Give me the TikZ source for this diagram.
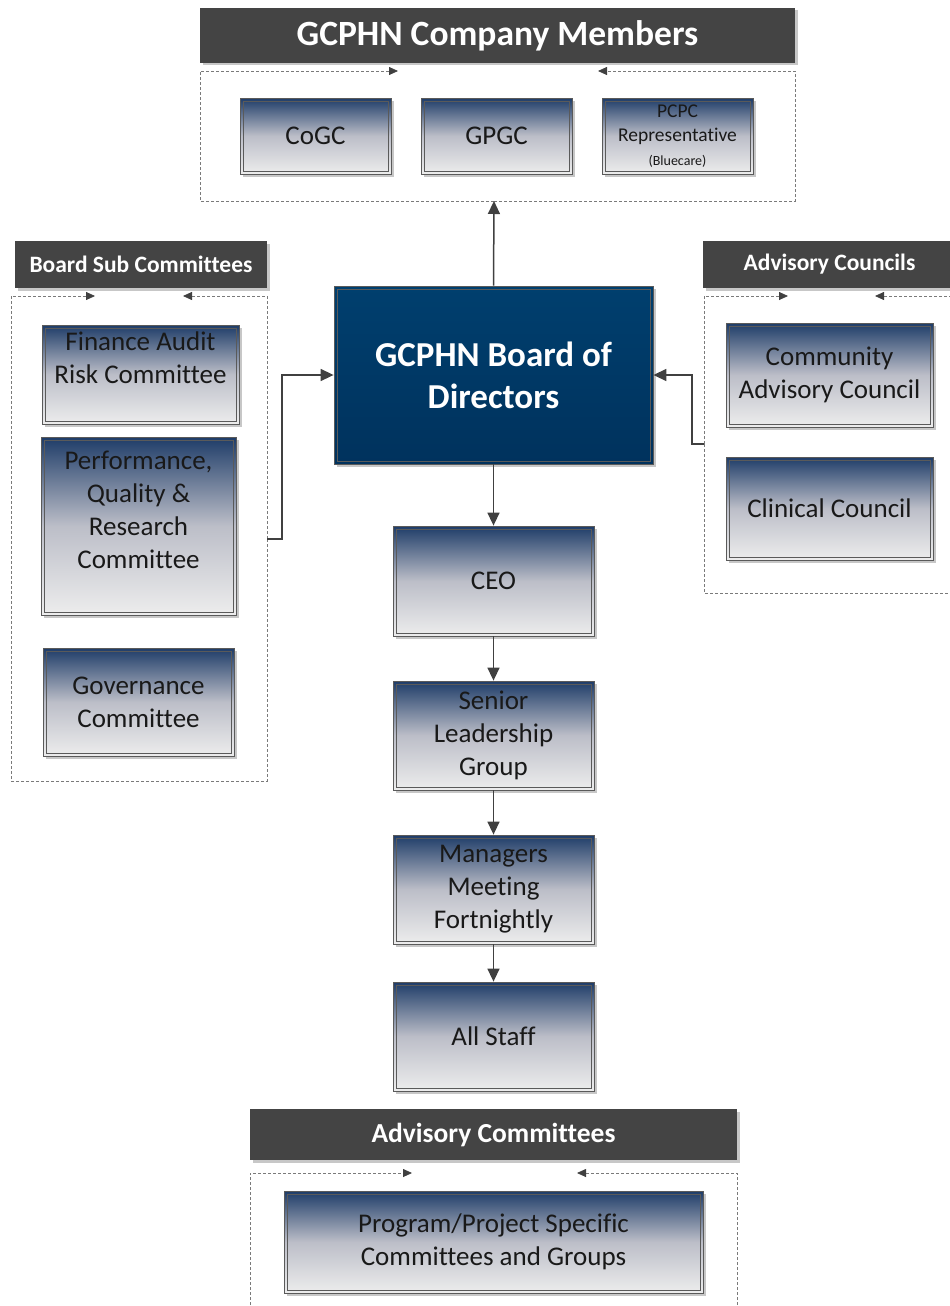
\documentclass[tikz,border=0pt]{standalone}
\usepackage{fontspec}
\setmainfont{Carlito}[Ligatures=NoCommon]
\usetikzlibrary{arrows.meta,shadows}
\definecolor{navy}{HTML}{1E3C68}
\definecolor{boxmid}{HTML}{BCBEC8}
\definecolor{boxlow}{HTML}{EDEDED}
\definecolor{boxline}{HTML}{5A5A5A}
\definecolor{bodtop}{HTML}{003F6E}
\definecolor{bodlow}{HTML}{00325D}
\definecolor{hdrgray}{HTML}{444444}
\definecolor{ringgray}{HTML}{7A7A7A}
\definecolor{arrgray}{HTML}{404040}

\begin{document}
\begin{tikzpicture}[x=1pt,y=-1pt,
    frame/.style={draw=boxline, line width=0.8pt, align=center, inner sep=0pt,
        drop shadow={shadow xshift=2.5pt,shadow yshift=-2.5pt,opacity=0.22,fill=black},
        path picture={\draw[boxline,line width=0.7pt]
            ([shift={(3pt,-3pt)}]path picture bounding box.north west) rectangle
            ([shift={(-3pt,3pt)}]path picture bounding box.south east);}},
    box/.style={frame, top color=navy, bottom color=boxlow, middle color=boxmid,
        text=black!90, font=\fontsize{27}{33}\selectfont},
    board/.style={frame, top color=bodtop, bottom color=bodlow, text=white,
        font=\bfseries\fontsize{35}{42}\selectfont},
    hdr/.style={fill=hdrgray, text=white, inner sep=0pt,
        drop shadow={shadow xshift=2.5pt,shadow yshift=-2.5pt,opacity=0.22,fill=black}},
    ring/.style={draw=ringgray, line width=0.8pt, dash pattern=on 3pt off 2pt,
        -{Triangle[length=9pt,width=8pt,color=arrgray]}},
    link/.style={draw=arrgray, line width=1.5pt, -{Triangle[length=13pt,width=12pt]}}]
    \useasboundingbox (0,0) rectangle (950,1306);

    \node[hdr, minimum width=595pt, minimum height=55pt, font=\bfseries\fontsize{35.5}{42}\selectfont] (CM) at (497.5,35.5) {GCPHN Company Members};
    \node[box, minimum width=151pt, minimum height=76pt] (CoGC) at (315.5,136) {CoGC};
    \node[box, minimum width=151pt, minimum height=76pt] (GPGC) at (496.5,136) {GPGC};
    \node[box, minimum width=151pt, minimum height=76pt, font=\fontsize{19.5}{24}\selectfont] (PCPC) at (677.5,136) {PCPC\\Representative\\{\fontsize{14}{24}\selectfont(Bluecare)}};
    \coordinate (CMin) at (494,201);
    \draw[ring] (CMin) -- (200,201) -- (200,71) -- (398,71);
    \draw[ring] (CMin) -- (795,201) -- (795,71) -- (598,71);

    \node[board, minimum width=319pt, minimum height=178pt] (BOD) at (493.5,375) {GCPHN Board of\\Directors};
    \draw[link] (BOD.north) -- (CMin);

    \node[hdr, minimum width=252pt, minimum height=47pt, font=\bfseries\fontsize{23.5}{28}\selectfont] (BSC) at (141,264.5) {Board Sub Committees};
    \node[box, minimum width=197pt, minimum height=99pt] (FAR) at (140.5,374.5) {Finance Audit\\Risk Committee\\\mbox{}};
    \node[box, minimum width=195pt, minimum height=178pt] (PQR) at (138.5,526) {Performance,\\Quality \&\\Research\\Committee\\\mbox{}};
    \node[box, minimum width=191pt, minimum height=108pt] (GOV) at (138.5,702) {Governance\\Committee};
    \coordinate (BSCout) at (267,539);
    \draw[ring] (BSCout) -- (267,781) -- (11,781) -- (11,296) -- (95,296);
    \draw[ring] (BSCout) -- (267,296) -- (183,296);
    \draw[link] (BSCout) -- ++(15,0) |- (BOD.west);

    \node[hdr, minimum width=253pt, minimum height=47pt, font=\bfseries\fontsize{23.5}{28}\selectfont] (AC) at (829.5,264.5) {Advisory Councils};
    \node[box, minimum width=207pt, minimum height=104pt] (CAC) at (829.5,375) {Community\\Advisory Council};
    \node[box, minimum width=207pt, minimum height=103pt] (CC) at (829.5,508.5) {Clinical Council};
    \coordinate (ACout) at (704,444);
    \draw[ring] (ACout) -- (704,296) -- (788,296);
    \draw[ring] (ACout) -- (704,593) -- (960,593) -- (960,296) -- (875,296);
    \draw[link] (ACout) -- ++(-12,0) |- (BOD.east);

    \node[box, minimum width=201pt, minimum height=110pt] (CEO) at (493.5,581) {CEO};
    \node[box, minimum width=201pt, minimum height=109pt] (SLG) at (493.5,735.5) {Senior\\Leadership\\Group};
    \node[box, minimum width=201pt, minimum height=109pt] (MMF) at (493.5,889.5) {Managers\\Meeting\\Fortnightly};
    \node[box, minimum width=201pt, minimum height=109pt] (AS) at (493.5,1036.5) {All Staff};
    \draw[link] (BOD) -- (CEO);
    \draw[link] (CEO) -- (SLG);
    \draw[link] (SLG) -- (MMF);
    \draw[link] (MMF) -- (AS);

    \node[hdr, minimum width=487pt, minimum height=51pt, font=\bfseries\fontsize{27.5}{33}\selectfont] (ACM) at (493.5,1134.5) {Advisory Committees};
    \node[box, minimum width=419pt, minimum height=102pt] (PPS) at (493.5,1242) {Program/Project Specific\\Committees and Groups};
    \draw[ring] (250,1320) -- (250,1173) -- (412,1173);
    \draw[ring] (737,1320) -- (737,1173) -- (577,1173);
\end{tikzpicture}
\end{document}
